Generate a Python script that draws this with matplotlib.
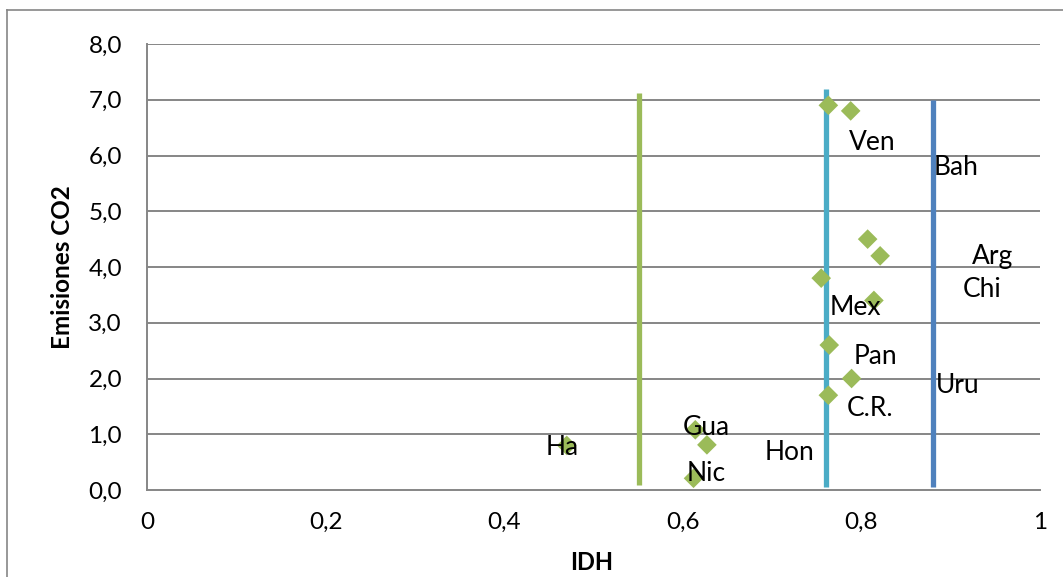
import matplotlib
matplotlib.use("Agg")
import matplotlib.pyplot as plt
from matplotlib.lines import Line2D

plt.rcParams['font.family'] = ['Lato', 'DejaVu Sans']

# Scatter data (IDH vs CO2 emissions)
idh = [0.470, 0.614, 0.627, 0.612, 0.763, 0.788, 0.807, 0.821, 0.755, 0.814, 0.764, 0.789, 0.763]
co2 = [0.80, 1.08, 0.81, 0.21, 6.90, 6.80, 4.50, 4.20, 3.80, 3.40, 2.60, 2.00, 1.70]

# Country labels and their positions
labels = ["Ha", "Gua", "Nic", "Hon", "Ven", "Bah", "Arg", "Chi", "Mex", "Pan", "Uru", "C.R."]
label_x = [0.465, 0.626, 0.626, 0.720, 0.812, 0.881, 0.947, 0.935, 0.793, 0.816, 0.883, 0.810]
label_y = [0.77, 1.13, 0.30, 0.68, 6.24, 5.78, 4.18, 3.60, 3.28, 2.39, 1.88, 1.47]
label_ha = ["center", "center", "center", "center", "center", "left", "center", "center", "center", "center", "left", "center"]

# Vertical reference lines
vline_x = [0.551, 0.760, 0.880]
vline_y0 = [0.09, 0.05, 0.05]
vline_y1 = [7.12, 7.20, 7.00]
vline_colors = ["#9BBB59", "#4BACC6", "#4F81BD"]

x_ticks = [0, 0.2, 0.4, 0.6, 0.8, 1.0]
x_ticklabels = ["0", "0,2", "0,4", "0,6", "0,8", "1"]
y_ticks = [0, 1, 2, 3, 4, 5, 6, 7, 8]
y_ticklabels = ["0,0", "1,0", "2,0", "3,0", "4,0", "5,0", "6,0", "7,0", "8,0"]

W, H = 1063, 577
fig = plt.figure(figsize=(W / 100, H / 100), dpi=100)
ax = fig.add_axes([147 / W, 1 - 490 / H, (1040 - 147) / W, (490 - 44) / H])

ax.set_xlim(0, 1)
ax.set_ylim(0, 8)

grid_c = "#868686"
for yv in y_ticks[1:]:
    ax.axhline(yv, color=grid_c, lw=1.4, zorder=1)

for xv, y0, y1, c in zip(vline_x, vline_y0, vline_y1, vline_colors):
    ax.plot([xv, xv], [y0, y1], color=c, lw=3.8, solid_capstyle='butt', zorder=3)

ax.scatter(idh, co2, marker='D', s=100, color="#9BBB59", edgecolors='none', zorder=4)

for t, x, y, ha in zip(labels, label_x, label_y, label_ha):
    ax.text(x, y, t, ha=ha, va='center', fontsize=19, color='black', zorder=5)

ax.set_xticks(x_ticks)
ax.set_xticklabels(x_ticklabels)
ax.set_yticks(y_ticks)
ax.set_yticklabels(y_ticklabels)
ax.tick_params(axis='both', length=0, labelsize=17.5, colors='black')
ax.tick_params(axis='x', pad=16)
ax.tick_params(axis='y', pad=18)

for s in ['top', 'right']:
    ax.spines[s].set_visible(False)
for s in ['left', 'bottom']:
    ax.spines[s].set_color(grid_c)
    ax.spines[s].set_linewidth(1.4)

ax.set_xlabel("IDH", fontsize=17, fontweight='bold')
ax.set_ylabel("Emisiones CO2", fontsize=17.5, fontweight='bold')
ax.xaxis.set_label_coords((592 - 147) / (1040 - 147), -(563 - 490) / (490 - 44))
ax.yaxis.set_label_coords(-(147 - 62) / (1040 - 147), 0.5)
ax.xaxis.label.set_va('center')
ax.yaxis.label.set_va('center')

# outer chart border (top and left visible)
fig.add_artist(Line2D([7 / W, 7 / W], [0, 1 - 10 / H], transform=fig.transFigure, color=grid_c, lw=1.2))
fig.add_artist(Line2D([7 / W, 1], [1 - 10 / H, 1 - 10 / H], transform=fig.transFigure, color=grid_c, lw=1.2))

fig.savefig("out.png", dpi=100)
